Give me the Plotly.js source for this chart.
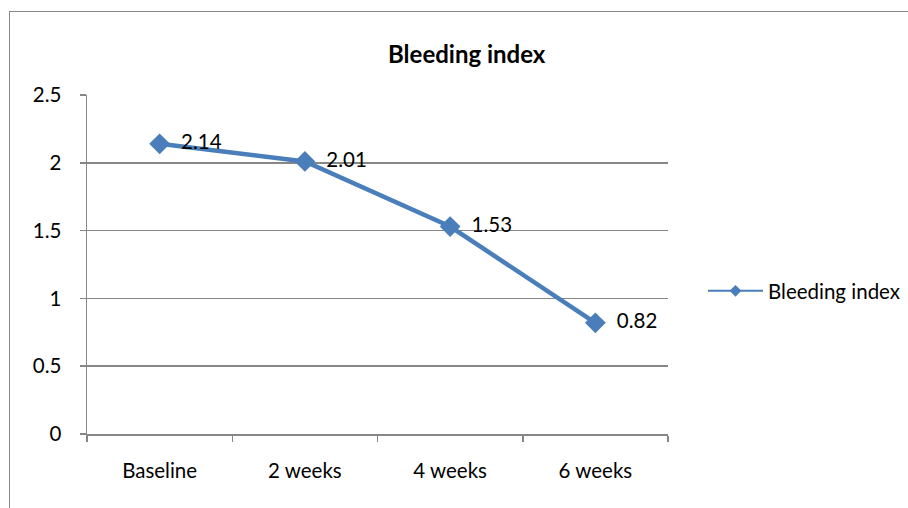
<!DOCTYPE html>
<html>
<head>
<meta charset="utf-8">
<script src="https://cdn.plot.ly/plotly-3.0.1.min.js"></script>
<style>
  html, body { margin: 0; padding: 0; background: #fff; overflow: hidden; }
  #wrap { position: relative; width: 908px; height: 508px; }
  #chart { position: absolute; left: 0; top: 0; width: 908px; height: 508px; }
  #frame { position: absolute; left: 9px; top: 11px; width: 940px; height: 540px;
           border: 1px solid #868686; pointer-events: none; }
</style>
</head>
<body>
<div id="wrap">
  <div id="chart"></div>
  <div id="frame"></div>
</div>
<script>
const categories = ["Baseline", "2 weeks", "4 weeks", "6 weeks"];
const bleedingIndex = [2.14, 2.01, 1.53, 0.82];
const valueLabels = ["2.14", "2.01", "1.53", "0.82"];
const yTickValues = [0, 0.5, 1, 1.5, 2, 2.5];
const yTickLabels = ["0", "0.5", "1", "1.5", "2", "2.5"];
const seriesName = "Bleeding index";
const chartTitle = "Bleeding index";

const FONT = "Lato, 'Noto Sans', sans-serif";
const FS = 20.5;
const BLUE = "#4A7EBB";
const GRID = "#868686";

const traces = [
  {
    // legend sample (thin line, small marker), covered by the main trace
    x: categories, y: bleedingIndex, type: "scatter", mode: "lines+markers",
    name: seriesName, showlegend: true, hoverinfo: "skip",
    line: { color: BLUE, width: 2 },
    marker: { symbol: "diamond", size: 9, color: BLUE }
  },
  {
    x: categories, y: bleedingIndex, type: "scatter", mode: "lines+markers+text",
    name: seriesName, showlegend: false,
    text: valueLabels.map(t => "  " + t), textposition: "middle right",
    textfont: { family: FONT, size: FS, color: "#000" },
    line: { color: BLUE, width: 4.5 },
    marker: { symbol: "diamond", size: 16, color: BLUE }
  }
];

const layout = {
  width: 908, height: 508,
  margin: { l: 87, r: 240, t: 95, b: 74, autoexpand: false },
  paper_bgcolor: "#fff", plot_bgcolor: "#fff",
  font: { family: FONT, size: FS, color: "#000" },
  title: { text: "<b>" + chartTitle + "</b>", xref: "container", x: 0.514, xanchor: "center",
           yref: "container", y: 1 - 55/508, yanchor: "middle",
           font: { family: FONT, size: 24, color: "#000" } },
  xaxis: {
    type: "category", categoryorder: "array", categoryarray: categories,
    range: [-0.5, 3.5],
    showline: true, linecolor: GRID, linewidth: 1.5,
    showgrid: false, zeroline: false,
    ticks: "outside", tickson: "boundaries", ticklen: 6, tickcolor: GRID, tickwidth: 1.5,
    ticklabelstandoff: 18,
    tickfont: { family: FONT, size: FS, color: "#000" },
    fixedrange: true
  },
  yaxis: {
    range: [0, 2.5],
    tickvals: yTickValues, ticktext: yTickLabels,
    showline: true, linecolor: GRID, linewidth: 1.5,
    showgrid: true, gridcolor: GRID, gridwidth: 1.5,
    zeroline: false,
    ticks: "outside", ticklen: 6, tickcolor: GRID, tickwidth: 1.5,
    ticklabelstandoff: 14,
    tickfont: { family: FONT, size: FS, color: "#000" },
    fixedrange: true
  },
  showlegend: true,
  legend: {
    xref: "container", yref: "container",
    x: 703/908, xanchor: "left", y: 1 - 291/508, yanchor: "middle",
    bgcolor: "rgba(0,0,0,0)", borderwidth: 0,
    font: { family: FONT, size: FS, color: "#000" },
    itemwidth: 55
  }
};

Plotly.newPlot("chart", traces, layout, { staticPlot: true, displayModeBar: false });
</script>
</body>
</html>
